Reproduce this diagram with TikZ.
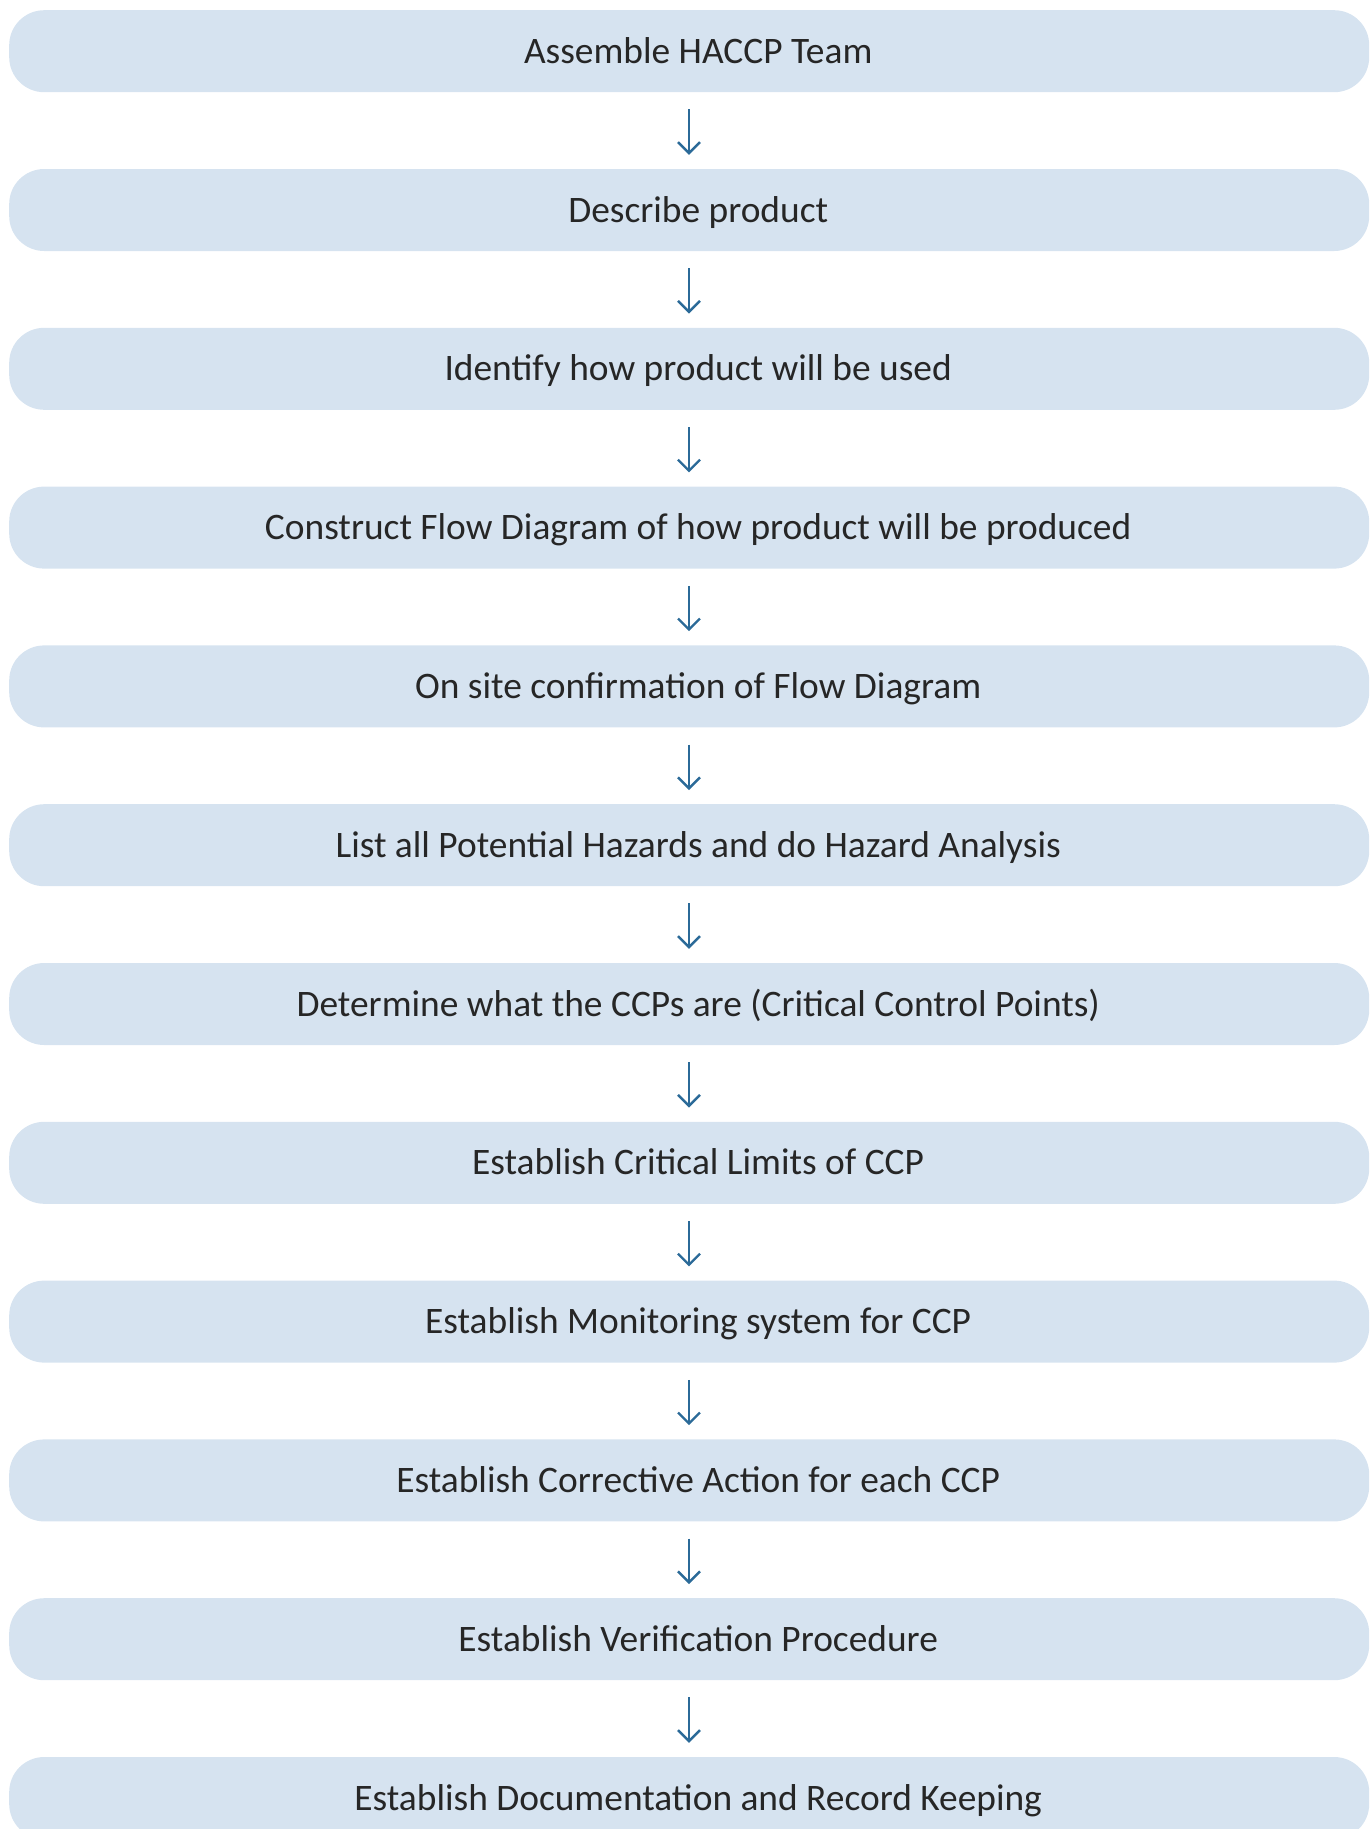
\documentclass[tikz,border=0pt]{standalone}
\usepackage{fontspec}
\setmainfont{Carlito}
\usetikzlibrary{arrows.meta}
\definecolor{boxfill}{HTML}{D6E3F0}
\definecolor{arrowblue}{HTML}{2B6A98}
\definecolor{labelgray}{HTML}{262626}
\begin{document}
\begin{tikzpicture}[x=1pt,y=-1pt,
  stepbox/.style={shape=rectangle, fill=boxfill, rounded corners=35pt,
    anchor=north west, minimum width=1360pt, minimum height=82pt,
    inner xsep=0pt, inner ysep=0pt, text height=53pt, text depth=29pt,
    text=labelgray, font=\fontsize{37.4}{41}\selectfont,
    execute at begin node={\hspace*{18pt}}},
  flow/.style={draw=arrowblue, line width=2.4pt,
    -{Straight Barb[length=11pt,width=22pt,line width=2.4pt]}}]
\useasboundingbox (0,0) rectangle (1369,1829);
\clip (0,0) rectangle (1369,1829);
\coordinate (ax) at (689,0);
\foreach \i/\t in {
  1/Assemble HACCP Team,
  2/Describe product,
  3/Identify how product will be used,
  4/Construct Flow Diagram of how product will be produced,
  5/On site confirmation of Flow Diagram,
  6/List all Potential Hazards and do Hazard Analysis,
  7/Determine what the CCPs are (Critical Control Points),
  8/Establish Critical Limits of CCP,
  9/Establish Monitoring system for CCP,
  10/Establish Corrective Action for each CCP,
  11/Establish Verification Procedure,
  12/Establish Documentation and Record Keeping}
  \node[stepbox] (b\i) at (9,{10+(\i-1)*158.8}) {\t};
\foreach \i [evaluate=\i as \j using int(\i+1)] in {1,...,11}
  \draw[flow] ([yshift=-17pt]b\i.south -| ax) -- ([yshift=14pt]b\j.north -| ax);
\end{tikzpicture}
\end{document}
